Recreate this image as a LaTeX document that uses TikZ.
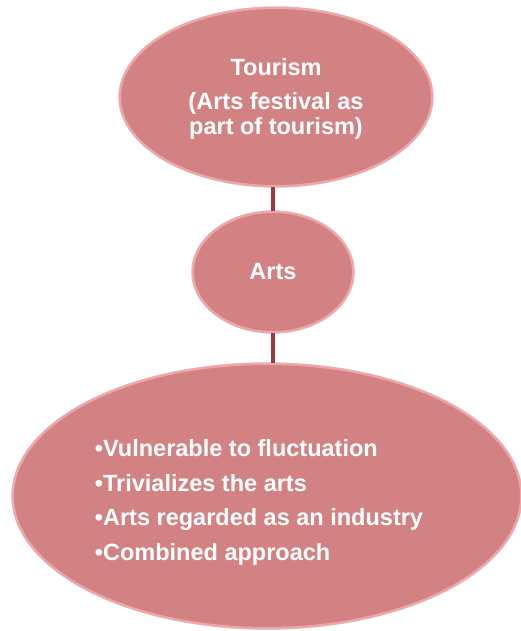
\documentclass[tikz,border=0pt]{standalone}
\usepackage{fontspec}
\setmainfont{Liberation Sans}
\usetikzlibrary{shapes.geometric}
\definecolor{bubblefill}{RGB}{211,130,131}
\definecolor{bubblerim}{RGB}{244,164,165}
\definecolor{bubbleedge}{RGB}{170,140,140}
\definecolor{linkred}{RGB}{156,59,61}
\tikzset{
  bubble/.style={ellipse, inner sep=0pt, fill=bubblefill, draw=bubblerim,
    line width=2pt, text=white,
    preaction={draw=bubbleedge, line width=3.4pt, opacity=0.55}},
  link/.style={draw=linkred, line width=4pt}
}
\begin{document}
\begin{tikzpicture}[x=1pt,y=-1pt]
\useasboundingbox (0,0) rectangle (521,631);
\node[bubble, minimum width=312pt, minimum height=178pt, align=center,
      font=\fontsize{23.5}{25}\selectfont\bfseries] (tour) at (276,97)
  {\rule{0pt}{21pt}Tourism\\[9pt](Arts festival as\\part of tourism)};
\node[bubble, minimum width=160pt, minimum height=120pt,
      font=\fontsize{23.5}{25}\selectfont\bfseries] (arts) at (273,272) {Arts};
\node[bubble, minimum width=508pt, minimum height=264pt, align=left,
      font=\fontsize{23.5}{34.5}\selectfont\bfseries] (list) at (267,496)
  {\hspace*{-16pt}\rule{0pt}{30pt}\textbullet Vulnerable to fluctuation\\
   \hspace*{-16pt}\textbullet Trivializes the arts\\
   \hspace*{-16pt}\textbullet Arts regarded as an industry\\
   \hspace*{-16pt}\textbullet Combined approach};
\path[link] (arts.north |- tour.south) -- (arts.north);
\path[link] (arts.south) -- (arts.south |- list.north);
\end{tikzpicture}
\end{document}
